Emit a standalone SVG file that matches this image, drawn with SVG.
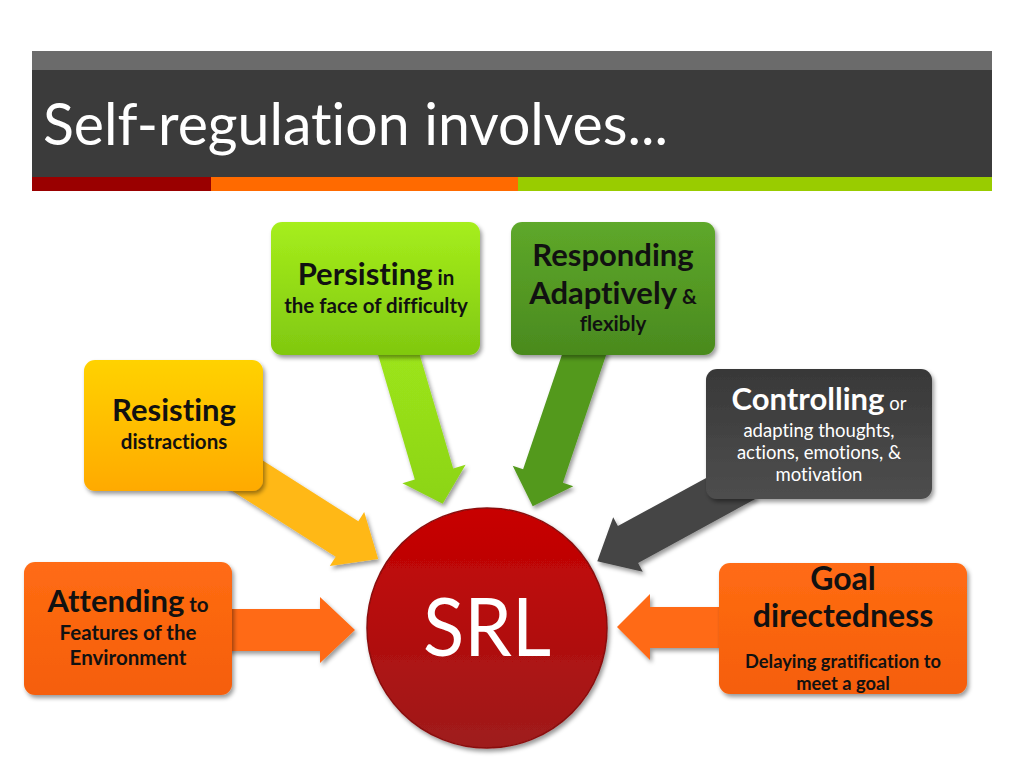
<svg xmlns="http://www.w3.org/2000/svg" width="1024" height="768" viewBox="0 0 1024 768">
<style>
  text { font-family: Lato, "Open Sans", "Liberation Sans", sans-serif; fill: #111; font-variant-ligatures: none; }
  .big { font-size: 31px; font-weight: bold; }
  .sm { font-size: 20.5px; font-weight: bold; }
  .smr { font-size: 18.5px; font-weight: normal; }
  .w { fill: #fff; }
  .box { filter: url(#sh); }
  .arr { filter: url(#sh); }
</style>
<defs>
  <filter id="sh" x="-10%" y="-10%" width="130%" height="130%">
    <feDropShadow dx="2" dy="3" stdDeviation="2" flood-color="#000" flood-opacity="0.4"/>
  </filter>
  <linearGradient id="gPer" x1="0" y1="0" x2="0" y2="1">
    <stop offset="0" stop-color="#a6ee1c"/><stop offset="1" stop-color="#80c810"/>
  </linearGradient>
  <linearGradient id="gRes" x1="0" y1="0" x2="0" y2="1">
    <stop offset="0" stop-color="#5ea82a"/><stop offset="1" stop-color="#4a8a1e"/>
  </linearGradient>
  <linearGradient id="gRst" x1="0" y1="0" x2="0" y2="1">
    <stop offset="0" stop-color="#ffd200"/><stop offset="1" stop-color="#ffaa00"/>
  </linearGradient>
  <linearGradient id="gCtl" x1="0" y1="0" x2="0" y2="1">
    <stop offset="0" stop-color="#383838"/><stop offset="1" stop-color="#4e4e4e"/>
  </linearGradient>
  <linearGradient id="gOr" x1="0" y1="0" x2="0" y2="1">
    <stop offset="0" stop-color="#ff6c14"/><stop offset="1" stop-color="#f55e08"/>
  </linearGradient>
  <linearGradient id="gSrl" x1="0" y1="0" x2="0" y2="1">
    <stop offset="0" stop-color="#c80000"/><stop offset="1" stop-color="#9e1c1c"/>
  </linearGradient>
  <linearGradient id="gAPer" x1="0" y1="0" x2="0" y2="1">
    <stop offset="0" stop-color="#9ee61a"/><stop offset="1" stop-color="#8cd418"/>
  </linearGradient>
</defs>

<!-- header -->
<rect x="32" y="51" width="960" height="19" fill="#6b6b6b"/>
<rect x="32" y="70" width="960" height="107" fill="#3b3b3b"/>
<rect x="32" y="177" width="179" height="14" fill="#9a0000"/>
<rect x="211" y="177" width="307" height="14" fill="#ff6a00"/>
<rect x="518" y="177" width="474" height="14" fill="#99cc00"/>
<text x="43" y="145" font-size="58" font-weight="normal" class="w" textLength="625" lengthAdjust="spacingAndGlyphs">Self-regulation involves...</text>

<!-- connectors -->
<g id="connectors">
  <polygon class="arr" fill="url(#gAPer)" points="415.1,338.9 453.2,468.4 465.6,464.7 442.7,503.7 402.4,483.3 414.8,479.6 376.7,350.1"/>
  <polygon class="arr" fill="#52991f" points="568.0,336.7 523.1,469.3 512.7,465.7 532.7,506.3 573.3,486.3 562.9,482.7 607.8,350.1"/>
  <polygon class="arr" fill="#ffb818" points="248.6,451.5 358.3,521.3 364.2,512.0 378.2,558.9 329.8,566.0 335.7,556.7 226.0,486.9"/>
  <polygon class="arr" fill="#454545" points="736.4,461.4 617.9,526.1 613.2,517.3 597.3,561.3 642.8,571.7 638.1,562.9 756.6,498.2"/>
  <polygon class="arr" fill="#ff6a13" points="220,609 320,609 320,597 355,630 320,663 320,651 220,651"/>
  <polygon class="arr" fill="#ff6a13" points="730,607 650,607 650,594 617,627 650,660 650,648 730,648"/>
</g>

<!-- nodes -->
<g id="persisting">
  <rect class="box" x="271" y="222" width="209" height="133" rx="11" fill="url(#gPer)"/>
  <text x="376" y="285" text-anchor="middle"><tspan class="big">Persisting</tspan><tspan class="sm"> in</tspan></text>
  <text x="376" y="313" text-anchor="middle" class="sm">the face of difficulty</text>
</g>
<g id="responding">
  <rect class="box" x="511" y="222" width="204" height="133" rx="11" fill="url(#gRes)"/>
  <text x="613" y="266" text-anchor="middle" class="big">Responding</text>
  <text x="613" y="304" text-anchor="middle"><tspan class="big">Adaptively</tspan><tspan class="sm"> &amp;</tspan></text>
  <text x="613" y="331" text-anchor="middle" class="sm">flexibly</text>
</g>
<g id="resisting">
  <rect class="box" x="84" y="360" width="179" height="131" rx="11" fill="url(#gRst)"/>
  <text x="174" y="421" text-anchor="middle" class="big">Resisting</text>
  <text x="174" y="449" text-anchor="middle" class="sm">distractions</text>
</g>
<g id="controlling">
  <rect class="box" x="706" y="369" width="226" height="130" rx="11" fill="url(#gCtl)"/>
  <text x="819" y="410" text-anchor="middle" class="w"><tspan class="big w">Controlling</tspan><tspan class="smr w"> or</tspan></text>
  <text x="819" y="437" text-anchor="middle" class="smr w">adapting thoughts,</text>
  <text x="819" y="459" text-anchor="middle" class="smr w">actions, emotions, &amp;</text>
  <text x="819" y="481" text-anchor="middle" class="smr w">motivation</text>
</g>
<g id="attending">
  <rect class="box" x="24" y="562" width="208" height="133" rx="11" fill="url(#gOr)"/>
  <text x="128" y="612" text-anchor="middle"><tspan class="big">Attending</tspan><tspan class="sm"> to</tspan></text>
  <text x="128" y="640" text-anchor="middle" class="sm">Features of the</text>
  <text x="128" y="665" text-anchor="middle" class="sm">Environment</text>
</g>
<g id="goal">
  <rect class="box" x="719" y="563" width="248" height="131" rx="11" fill="url(#gOr)"/>
  <text x="843" y="590" text-anchor="middle" class="big" style="font-size:32px">Goal</text>
  <text x="843" y="627" text-anchor="middle" class="big" style="font-size:32px">directedness</text>
  <text x="843" y="668" text-anchor="middle" class="sm" style="font-size:18.3px">Delaying gratification to</text>
  <text x="843" y="690" text-anchor="middle" class="sm" style="font-size:18.3px">meet a goal</text>
</g>
<g id="srl">
  <circle cx="487" cy="628" r="120" fill="url(#gSrl)" stroke="#8a1010" stroke-width="1.5" filter="url(#sh)"/>
  <text x="487" y="656" text-anchor="middle" class="w" font-size="82" textLength="128" lengthAdjust="spacingAndGlyphs">SRL</text>
</g>
</svg>
